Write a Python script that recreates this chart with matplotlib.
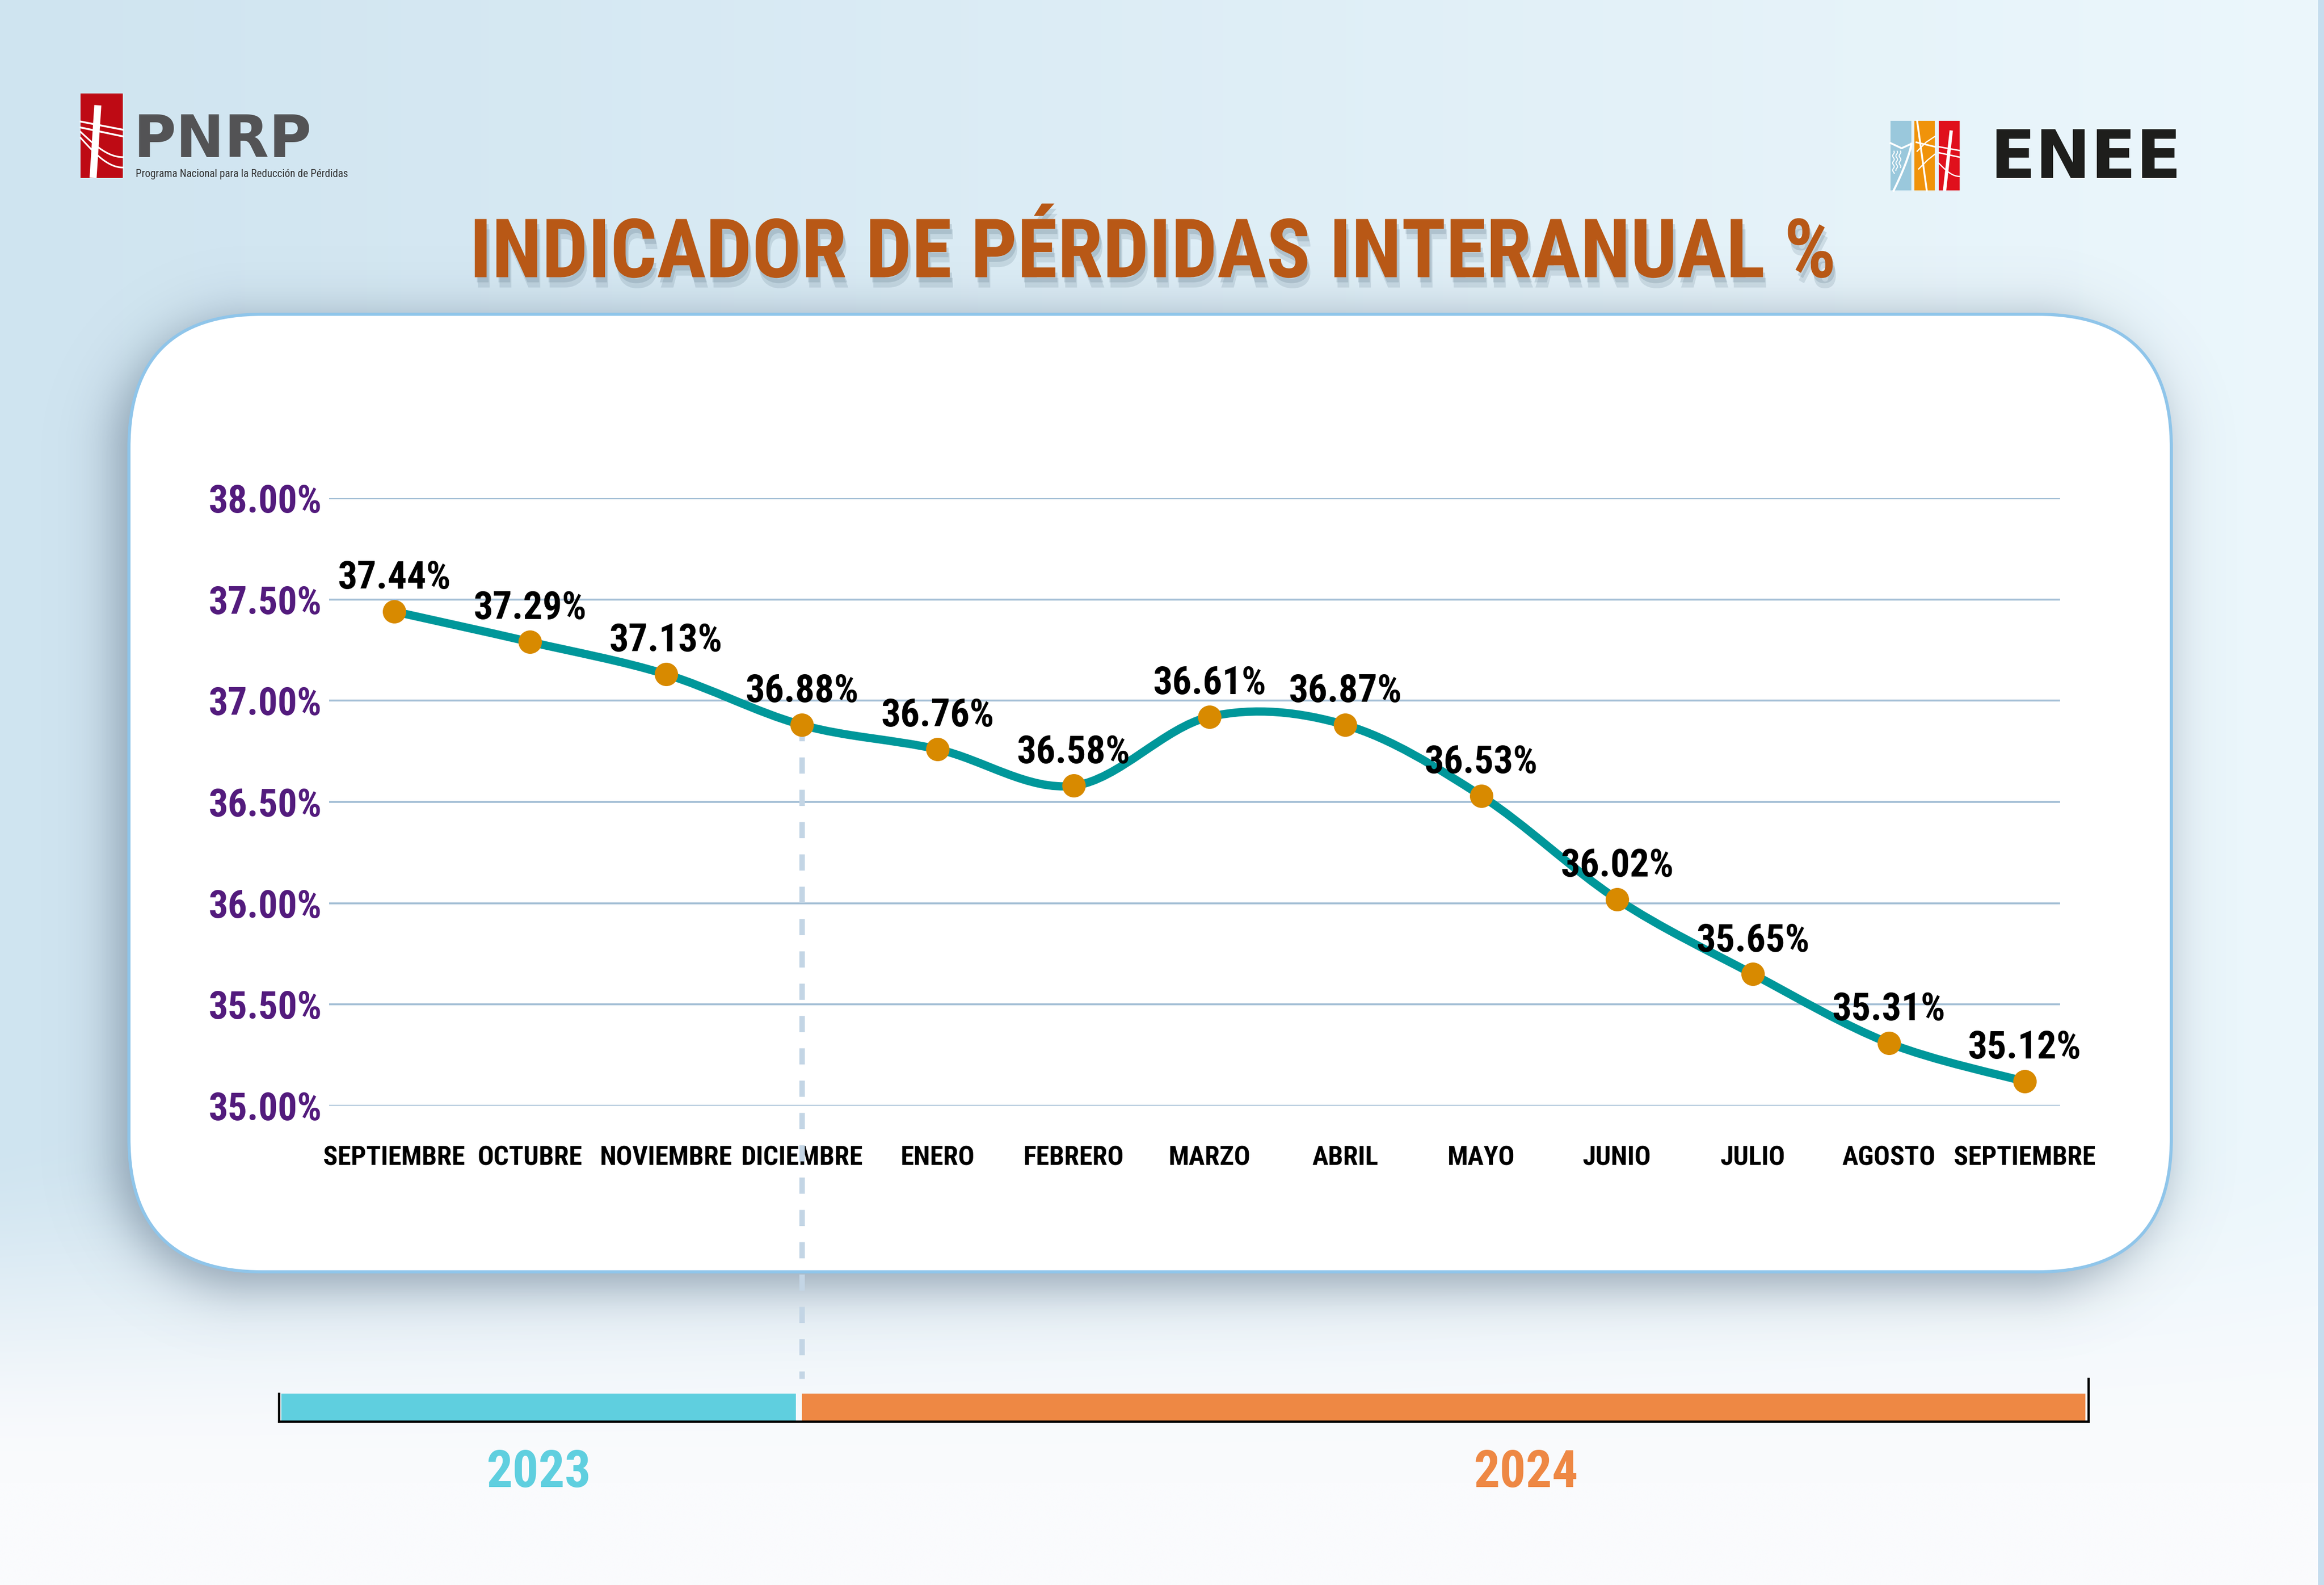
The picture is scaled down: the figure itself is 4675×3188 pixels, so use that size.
import numpy as np
import matplotlib
matplotlib.use("Agg")
import matplotlib.pyplot as plt
import matplotlib.patheffects as pe
from matplotlib import font_manager
from matplotlib.patches import FancyBboxPatch, Rectangle, PathPatch
from matplotlib.path import Path

# data ─────────────────────────────────────────────
MONTHS = ["SEPTIEMBRE", "OCTUBRE", "NOVIEMBRE", "DICIEMBRE", "ENERO", "FEBRERO",
          "MARZO", "ABRIL", "MAYO", "JUNIO", "JULIO", "AGOSTO", "SEPTIEMBRE"]
VALUES = [37.44, 37.29, 37.13, 36.88, 36.76, 36.58, 36.92, 36.88, 36.53,
          36.02, 35.65, 35.31, 35.12]
LABELS = ["37.44%", "37.29%", "37.13%", "36.88%", "36.76%", "36.58%", "36.61%",
          "36.87%", "36.53%", "36.02%", "35.65%", "35.31%", "35.12%"]
YTICKS = [35.0, 35.5, 36.0, 36.5, 37.0, 37.5, 38.0]
YEARS = ["2023", "2024"]
YEAR_SPLIT = 3  # DICIEMBRE, last month of 2023

# colours ──────────────────────────────────────────
TEAL = "#00979a"
MARKER = "#d88a00"
PURPLE = "#531b7d"
TITLE_C = "#b85816"
GRID_C = "#a3bed5"
CYAN = "#5fcfdf"
ORANGE = "#ee8844"

names = {f.name for f in font_manager.fontManager.ttflist}
NARROW = next((n for n in ["Liberation Sans Narrow", "Roboto Condensed",
                           "Open Sans Condensed", "Liberation Sans"] if n in names),
              "DejaVu Sans")

# layout in "screen" units (1568 wide)
W, H = 1568.0, 1568.0 * 3188 / 4675
X0, STEP = 266.0, 91.67          # pixel of first month and month spacing


def fx(x):
    return x / W


def fy(y):
    return 1 - y / H


def rr_sdf(xx, yy, x0, y0, x1, y1, r):
    cx, cy = (x0 + x1) / 2, (y0 + y1) / 2
    hx, hy = (x1 - x0) / 2 - r, (y1 - y0) / 2 - r
    qx = np.abs(xx - cx) - hx
    qy = np.abs(yy - cy) - hy
    out = np.hypot(np.maximum(qx, 0), np.maximum(qy, 0))
    ins = np.minimum(np.maximum(qx, qy), 0)
    return out + ins - r


def smooth_path(xs, ys):
    pts = np.column_stack([xs, ys]).astype(float)
    n = len(pts)
    verts, codes = [pts[0]], [Path.MOVETO]
    for i in range(n - 1):
        p0, p1 = pts[max(i - 1, 0)], pts[i]
        p2, p3 = pts[i + 1], pts[min(i + 2, n - 1)]
        verts += [p1 + (p2 - p0) / 6, p2 - (p3 - p1) / 6, p2]
        codes += [Path.CURVE4] * 3
    return Path(verts, codes)


fig = plt.figure(figsize=(4675 / 300, 3188 / 300), dpi=300)

# background ───────────────────────────────────────
bg = fig.add_axes([0, 0, 1, 1], zorder=0)
bg.set_xlim(0, W)
bg.set_ylim(H, 0)
bg.axis("off")

yy, xx = np.mgrid[0:int(H), 0:int(W)] + 0.5
t = (xx / W)[..., None]
left_c = np.array([207, 228, 240]) / 255
right_c = np.array([236, 247, 252]) / 255
top = left_c * (1 - t) + right_c * t
f = np.clip((yy - 760) / 240, 0, 1)
f = (f * f * (3 - 2 * f))[..., None]
img = top * (1 - f) + np.array([250, 251, 253]) / 255 * f
bg.imshow(img, extent=(0, W, H, 0), aspect="auto", zorder=0, interpolation="bilinear")
bg.add_patch(Rectangle((W - 4, 0), 4, H, color="#c6ddee", lw=0, zorder=1))

# card shadow + card
CARD = (87, 212, 1465, 858, 90)
d = rr_sdf(xx, yy, CARD[0] - 9, CARD[1] + 4, CARD[2] - 6, CARD[3] + 10, CARD[4])
alpha = 0.6 / (1 + np.exp(d / 10.0))
shadow = np.zeros(xx.shape + (4,))
shadow[..., 0], shadow[..., 1], shadow[..., 2] = 0.37, 0.45, 0.53
shadow[..., 3] = alpha
bg.imshow(shadow, extent=(0, W, H, 0), aspect="auto", zorder=2, interpolation="bilinear")
bg.add_patch(FancyBboxPatch((CARD[0], CARD[1]), CARD[2] - CARD[0], CARD[3] - CARD[1],
                            boxstyle=f"round,pad=0,rounding_size={CARD[4]}",
                            fc="white", ec="#8fc5ea", lw=1.5, zorder=3))

# PNRP logo
bg.add_patch(Rectangle((54.4, 63), 28.5, 57, color="#be0a14", lw=0, zorder=4))
bg.plot([66, 62.8], [71, 120], color="white", lw=3.4, solid_capstyle="butt", zorder=5)
bg.plot([54.4, 82.9], [82, 87.5], color="white", lw=0.9, zorder=5)
bg.plot([54.4, 82.9], [86, 92], color="white", lw=0.9, zorder=5)
for a, b in [(89, 106), (93, 113)]:
    s = np.linspace(0, 1, 30)
    px = 54.4 + s * 28.5
    py = a + (b - a) * np.sin(s * np.pi / 2)
    bg.plot(px, py, color="white", lw=0.8, zorder=5)
bg.text(90, 106, "PNRP", fontsize=28, color="#535355", family="DejaVu Sans",
        weight="bold", va="baseline", ha="left", zorder=5)
bg.text(91.5, 119.5, "Programa Nacional para la Reducción de Pérdidas", fontsize=5.2,
        color="#333333", family=NARROW, va="baseline", ha="left", zorder=5)

# ENEE logo
bg.add_patch(Rectangle((1275.5, 81.6), 14.1, 47, color="#9ac8dc", lw=0, zorder=4))
bg.add_patch(Rectangle((1291.6, 81.6), 13.9, 47, color="#f0930a", lw=0, zorder=4))
bg.add_patch(Rectangle((1308.0, 81.6), 14.0, 47, color="#e0101c", lw=0, zorder=4))
s = np.linspace(0, 1, 30)
bg.plot(1289.6 - 12 * s ** 1.3, 97 + 31.6 * s, color="white", lw=1.0, zorder=5)
bg.plot([1275.5, 1283, 1289.6], [96.5, 100, 97], color="white", lw=0.9, zorder=5)
for k in range(3):
    wy = np.linspace(102, 117 - 2 * k, 20)
    bg.plot(1277.5 + 2.2 * k + 0.6 * np.sin(wy * 1.3), wy, color="white", lw=0.5, zorder=5)
bg.plot([1293.5, 1300], [81.6, 128.6], color="white", lw=0.9, zorder=5)
bg.plot([1293, 1305.5], [96, 99], color="white", lw=0.8, zorder=5)
bg.plot([1293.5, 1299.5, 1305.5], [102, 96, 92], color="white", lw=0.6, zorder=5)
bg.plot([1294.5, 1300.5, 1305.5], [114, 108, 104], color="white", lw=0.6, zorder=5)
bg.plot([1316.5, 1312], [88, 128.6], color="white", lw=1.6, solid_capstyle="butt", zorder=5)
bg.plot([1308, 1322], [99, 101.5], color="white", lw=0.7, zorder=5)
bg.plot([1308, 1322], [103, 106], color="white", lw=0.7, zorder=5)
bg.plot(1308 + 14 * s, 110 + 9 * np.sin(s * np.pi / 2), color="white", lw=0.6, zorder=5)
bg.text(1343, 120, "ENEE", fontsize=32, color="#1e1e1c", family="DejaVu Sans",
        weight="bold", va="baseline", ha="left", zorder=5)

# title
fig.text(fx(778), fy(187), "INDICADOR DE PÉRDIDAS INTERANUAL %", ha="center",
         va="baseline", fontsize=39.5, weight="bold", family=NARROW, color=TITLE_C,
         zorder=6,
         path_effects=[pe.SimplePatchShadow(offset=(1.5, -5), shadow_rgbFace="#4f6a7c", alpha=0.16),
                       pe.SimplePatchShadow(offset=(1, -2.5), shadow_rgbFace="#4f6a7c", alpha=0.2),
                       pe.Normal()])

# main chart ───────────────────────────────────────
ax = fig.add_axes([fx(222), fy(746), (1390 - 222) / W, (746 - 336) / H], zorder=5)
ax.set_facecolor("none")
x = np.arange(len(MONTHS))
ax.set_xlim((222 - X0) / STEP, (1390 - X0) / STEP)
ax.set_ylim(35, 38)
for sp in ax.spines.values():
    sp.set_visible(False)
ax.set_yticks(YTICKS)
ax.set_yticklabels([f"{v:.2f}%" for v in YTICKS])
ax.set_xticks(x)
ax.set_xticklabels(MONTHS)
ax.tick_params(axis="y", length=0, pad=3.5, labelsize=18.5, labelcolor=PURPLE)
ax.tick_params(axis="x", length=0, pad=19, labelsize=13, labelcolor="black")
for lab in ax.get_yticklabels() + ax.get_xticklabels():
    lab.set_family(NARROW)
    lab.set_weight("bold")
ax.yaxis.grid(True, color=GRID_C, lw=0.9)
ax.set_axisbelow(True)

# dashed year divider, from the December point down to the timeline
y_low = 35 - (930 - 746) / ((746 - 336) / 3.0)
ax.plot([YEAR_SPLIT, YEAR_SPLIT], [VALUES[YEAR_SPLIT], y_low], color="#c3d5e5",
        lw=2.6, dashes=(3, 3), clip_on=False, zorder=1.5)

ax.add_patch(PathPatch(smooth_path(x, VALUES), fill=False, ec=TEAL, lw=4,
                       capstyle="round", joinstyle="round", zorder=3))
ax.plot(x, VALUES, "o", ms=11.3, color=MARKER, mec="none", zorder=4)
for xi, v, lab in zip(x, VALUES, LABELS):
    ax.annotate(lab, (xi, v), xytext=(0, 11), textcoords="offset points",
                ha="center", va="baseline", fontsize=18.5, weight="bold",
                family=NARROW, color="black", zorder=6)

# timeline bar ─────────────────────────────────────
tl = fig.add_axes([fx(188), fy(959), (1409 - 188) / W, (959 - 930) / H], zorder=5)
tl.set_facecolor("none")
xl0, xl1 = (188 - X0) / STEP, (1409 - X0) / STEP
tl.set_xlim(xl0, xl1)
tl.set_ylim(0, 1)
bar_h = 19 / 29
starts = [xl0 + 0.02, YEAR_SPLIT]
ends = [YEAR_SPLIT - 0.045, xl1 - 0.02]
cols = [CYAN, ORANGE]
tl.barh([0, 0], [e - s0 for s0, e in zip(starts, ends)], left=starts, height=bar_h,
        align="edge", color=cols, lw=0)
tl.set_xticks([])
tl.set_yticks([])
tl.spines["top"].set_visible(False)
tl.spines["left"].set_bounds(0, bar_h)
for k in ["left", "right", "bottom"]:
    tl.spines[k].set_linewidth(1.1)
    tl.spines[k].set_color("black")
label_x = [(starts[0] + ends[0]) / 2, 8.33]
for lx, yr, c in zip(label_x, YEARS, cols):
    tl.text(lx, -1.52, yr, transform=tl.get_xaxis_transform(), ha="center",
            va="baseline", fontsize=25, weight="bold", family=NARROW, color=c)

fig.savefig("out.png", dpi=300)
